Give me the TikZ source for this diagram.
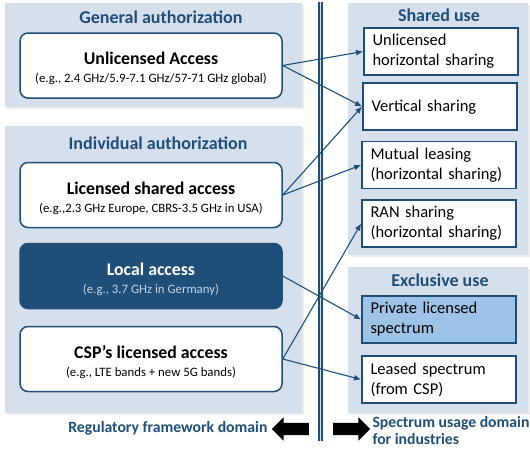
\documentclass[tikz,border=0pt]{standalone}
\usepackage{fontspec}
\setmainfont{Carlito}
\usetikzlibrary{arrows.meta,positioning,shapes.arrows,shadows}
\definecolor{navy}{RGB}{31,78,121}
\definecolor{panelbg}{RGB}{214,224,236}
\definecolor{skyfill}{RGB}{157,195,230}
\definecolor{palesub}{RGB}{200,212,228}
\newcommand{\acctitle}[1]{{\fontsize{17.8}{20}\selectfont\bfseries\rule{0pt}{19pt}#1}}
\newcommand{\accnote}[1]{{\fontsize{12.8}{14}\selectfont #1}}
\tikzset{
  panel/.style={fill=panelbg, draw=none,
                drop shadow={opacity=0.15, shadow xshift=2pt, shadow yshift=-2pt}},
  paneltitle/.style={font=\fontsize{18}{21}\selectfont\bfseries, text=navy},
  access/.style={draw=navy, line width=1.5pt, rounded corners=8pt, fill=white,
                 align=center, minimum width=262pt, minimum height=65pt,
                 inner sep=2pt, font=\fontsize{12.8}{18}\selectfont},
  usebox/.style={draw=navy, line width=1.8pt, fill=white, align=left,
                 text width=137pt, inner xsep=8.5pt, minimum height=47pt,
                 font=\fontsize{16.5}{20}\selectfont},
  link/.style={draw=navy, line width=1.1pt, -{Latex[length=7pt,width=6pt]}},
  bigarrow/.style={single arrow, fill=black, draw=none, minimum height=37pt,
                   inner sep=6pt, single arrow head extend=5.5pt},
  domtext/.style={font=\fontsize{15.7}{17}\selectfont\bfseries, text=navy, align=left},
}

\begin{document}
\begin{tikzpicture}[x=1pt, y=-1pt]
  \useasboundingbox (0,0) rectangle (530,453);
  % panels
  \path[panel] (5,3) rectangle (302,107);
  \path[panel] (5,126) rectangle (302,413);
  \path[panel] (348,3) rectangle (528,255);
  \path[panel] (348,267) rectangle (528,413);
  \node[paneltitle] (gentitle) at (161,17) {General authorization};
  \node[paneltitle] (indtitle) at (158,143) {Individual authorization};
  \node[paneltitle] (shrtitle) at (439,15) {Shared use};
  \node[paneltitle] (exctitle) at (440,280) {Exclusive use};

  % divider between the two domains
  \coordinate (divtop) at (320.5,2);
  \coordinate (divbot) at (320.5,441);
  \draw[draw=navy, line width=1.3pt, double=panelbg, double distance=1.6pt]
    (divtop) -- (divbot);

  % authorization schemes
  \node[access] (unlic) at (151,65.5)
    {\acctitle{Unlicensed Access}\\\accnote{(e.g., 2.4 GHz/5.9-7.1 GHz/57-71 GHz global)}};
  \node[access] (lsa) at (151,195)
    {\acctitle{Licensed shared access}\\\accnote{(e.g.,2.3 GHz Europe, CBRS-3.5 GHz in USA)}};
  \node[access, fill=navy, text=white] (local) at (151,276)
    {\acctitle{Local access}\\\accnote{\color{palesub}(e.g., 3.7 GHz in Germany)}};
  \node[access] (csp) at (151,359)
    {\acctitle{CSP’s licensed access}\\\accnote{(e.g., LTE bands + new 5G bands)}};

  % usage models
  \node[usebox] (uhs) at (441,51.5) {Unlicensed\\horizontal sharing};
  \node[usebox, text height=12pt] (vert) at (440,106.5) {Vertical sharing};
  \node[usebox] (mutual) at (439,165) {Mutual leasing\\(horizontal sharing)};
  \node[usebox] (ran) at (439,223.5) {RAN sharing\\(horizontal sharing)};
  \node[usebox, fill=skyfill] (priv) at (439,319.5) {Private licensed\\spectrum};
  \node[usebox] (leased) at (439,379.5) {Leased spectrum\\(from CSP)};

  \draw[link] (unlic.east) -- (uhs.west);
  \draw[link] (unlic.east) -- (vert.west);
  \draw[link] (lsa.east) -- (vert.west);
  \draw[link] (lsa.east) -- (mutual.west);
  \draw[link] (local.east) -- (priv.west);
  \draw[link] (csp.east) -- (ran.west);
  \draw[link] (csp.east) -- (leased.west);

  % domain labels
  \node[bigarrow, shape border rotate=180] (toreg) at (293.5,429) {};
  \node[bigarrow] (touse) at (348.5,429) {};
  \node[domtext, anchor=east] (regdom) at (271,428) {Regulatory framework domain};
  \node[domtext, anchor=west] (usedom) at (369,431) {Spectrum usage domain\\for industries};
\end{tikzpicture}
\end{document}
